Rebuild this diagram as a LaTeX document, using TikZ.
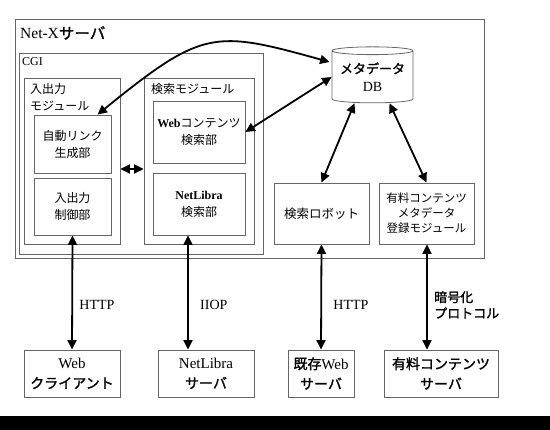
\documentclass[tikz,border=0pt]{standalone}
\usepackage{fontspec}
\setmainfont{Liberation Serif}
\newfontfamily\jpfont{Noto Sans CJK JP}
\newfontfamily\jpbfont{Noto Sans CJK JP}[FakeBold=1.5]
\newcommand\jpb{\jpbfont}
\usetikzlibrary{
  arrows.meta,
  positioning,
  calc,
  shapes.geometric}

\begin{document}
\begin{tikzpicture}[x=1pt, y=-1pt,
  box/.style={draw=black!60, line width=0.8pt, inner sep=0pt, align=center},
  jp/.style={font=\jpfont\fontsize{12}{17}\selectfont},
  lbl/.style={inner sep=1pt, align=left},
  link/.style={line width=1.8pt, {Triangle[length=9.5pt,width=9pt]}-{Triangle[length=9.5pt,width=9pt]}}]
\useasboundingbox (0,0) rectangle (550,430);
\fill[black] (0,416) rectangle (550,430);

%Net-X server
\node[box, minimum width=469, minimum height=239] (netx) at (249.5,138.5) {};
\node[lbl, anchor=west, font=\fontsize{15.5}{18}\selectfont] (netxlbl) at (19,33) {Net-X{\jpb サーバ}};

%CGI
\node[box, minimum width=244, minimum height=201] (cgi) at (141,153.5) {};
\node[lbl, anchor=west, font=\fontsize{12}{14}\selectfont] (cgilbl) at (21,62) {CGI};

%I/O module
\node[box, minimum width=96, minimum height=166] (iomod) at (72,161) {};
\node[lbl, jp, anchor=west] (iomodlbl) at (29,97.5) {入出力\\モジュール};
\node[box, jp, minimum width=77, minimum height=58] (autolink) at (72.5,144) {自動リンク\\生成部};
\node[box, jp, minimum width=77, minimum height=57] (ioctrl) at (72.5,206.5) {入出力\\制御部};

%search module
\node[box, minimum width=110, minimum height=166] (srchmod) at (199,161) {};
\node[lbl, jp, anchor=west] (srchmodlbl) at (150,89) {検索モジュール};
\node[box, jp, minimum width=92, minimum height=62] (websrch) at (199,132) {{\rmfamily\bfseries Web}コンテンツ\\検索部};
\node[box, jp, minimum width=92, minimum height=62] (nlsrch) at (199,204) {{\rmfamily\bfseries NetLibra}\\検索部};

%metadata DB
\node[draw=black!60, line width=0.8pt, cylinder, shape border rotate=90, aspect=0.12,
      minimum width=81, minimum height=56, inner sep=0pt, align=center,
      font=\fontsize{13}{18}\selectfont] (db) at (372.5,77)
      {{\jpb メタデータ}\\{\fontsize{14}{18}\selectfont DB}};

\node[box, jp, font=\jpfont\fontsize{12.5}{15}\selectfont, minimum width=95, minimum height=61] (robot) at (321.5,213.5) {検索ロボット};
\node[box, jp, font=\jpfont\fontsize{11.5}{15}\selectfont, minimum width=95, minimum height=61] (paidmeta) at (426.5,213.5) {有料コンテンツ\\メタデータ\\登録モジュール};

%outside servers
\node[box, font=\fontsize{15}{20}\selectfont, minimum width=96, minimum height=47] (webcl) at (72,373.5) {Web\\{\jpb\fontsize{14}{20}\selectfont クライアント}};
\node[box, font=\fontsize{15}{20}\selectfont, minimum width=96, minimum height=47] (nlsrv) at (206,373.5) {NetLibra\\{\jpb\fontsize{14}{20}\selectfont サーバ}};
\node[box, font=\fontsize{15}{20}\selectfont, minimum width=66, minimum height=47] (websrv) at (321,373.5) {{\jpb\fontsize{14}{20}\selectfont 既存}Web\\{\jpb\fontsize{14}{20}\selectfont サーバ}};
\node[box, font=\jpb\fontsize{14}{20}\selectfont, minimum width=114, minimum height=47] (paidsrv) at (441,373.5) {有料コンテンツ\\サーバ};

%connections
\draw[link] ([xshift=25pt]autolink.north) .. controls (203,29) and (214,30) .. ([shift={(-2pt,15pt)}]db.west);
\draw[link] (websrch.east) -- (db.west);
\draw[link] (iomod.east |- 0,169) -- (srchmod.west |- 0,169);
\draw[link] ([xshift=-18pt]db.south) -- (robot.north);
\draw[link] ([xshift=17pt]db.south) -- (paidmeta.north);

\draw[link] (ioctrl.south) -- node[pos=0.61, right, xshift=3pt, font=\fontsize{14}{16}\selectfont] (http1) {HTTP} (webcl.north);
\draw[link] ([xshift=-11pt]nlsrch.south) -- node[pos=0.61, right, xshift=8pt, font=\fontsize{14}{16}\selectfont] (iiop) {IIOP} ([xshift=-18pt]nlsrv.north);
\draw[link] (robot.south) -- node[pos=0.575, right, xshift=8pt, font=\fontsize{14}{16}\selectfont] (http2) {HTTP} (websrv.north);
\draw[link] ([xshift=0.5pt]paidmeta.south) -- node[pos=0.575, right, xshift=3pt, align=left, font=\jpb\fontsize{13}{16}\selectfont] (crypt) {暗号化\\プロトコル} ([xshift=-14pt]paidsrv.north);
\end{tikzpicture}
\end{document}
